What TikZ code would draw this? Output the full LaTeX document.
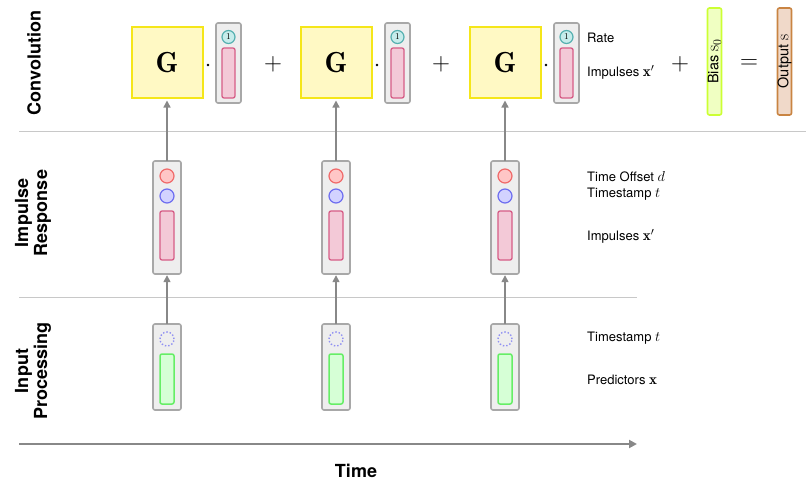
\documentclass[tikz,border=0pt]{standalone}
\usepackage{fontspec}
\setsansfont{TeX Gyre Heros}
\usetikzlibrary{arrows.meta}
\newcommand{\mymth}[1]{{\fontsize{15}{15}\selectfont$#1$}}
\newcommand{\mymthb}[1]{{\fontsize{17}{17}\selectfont$#1$}}
\definecolor{gfill}{HTML}{FFF9C4}
\definecolor{gdraw}{HTML}{F5E619}
\definecolor{vfill}{HTML}{EEEEEE}
\definecolor{vdraw}{HTML}{A8A8A8}
\definecolor{pfill}{HTML}{F3C9D7}
\definecolor{pdraw}{HTML}{D65C86}
\definecolor{tfill}{HTML}{C6ECEB}
\definecolor{tdraw}{HTML}{55B0B0}
\definecolor{rfill}{HTML}{FFC6C6}
\definecolor{rdraw}{HTML}{F06A6A}
\definecolor{bfill}{HTML}{D2D2FF}
\definecolor{bdraw}{HTML}{6E6EF0}
\definecolor{dbdraw}{HTML}{9090F2}
\definecolor{grfill}{HTML}{D6FFD6}
\definecolor{grdraw}{HTML}{66EE66}
\definecolor{bifill}{HTML}{F0FFC2}
\definecolor{bidraw}{HTML}{CCFF33}
\definecolor{ofill}{HTML}{F0D9C9}
\definecolor{odraw}{HTML}{C98442}
\definecolor{arr}{HTML}{888888}
\definecolor{sep}{HTML}{C8C8C8}
\tikzset{
  gbox/.style={draw=gdraw, fill=gfill, line width=2pt, minimum width=71pt, minimum height=71pt, inner sep=0pt, font=\fontsize{29}{29}\selectfont},
  vbox/.style={draw=vdraw, fill=vfill, line width=1.6pt, rounded corners=2pt, inner sep=0pt},
  prect/.style={draw=pdraw, fill=pfill, line width=1.3pt, rounded corners=2pt},
  tcirc/.style={circle, draw=tdraw, fill=tfill, line width=1.2pt, minimum size=13pt, inner sep=0pt, font=\fontsize{9}{9}\selectfont},
  rcirc/.style={circle, draw=rdraw, fill=rfill, line width=1.2pt, minimum size=14pt, inner sep=0pt},
  bcirc/.style={circle, draw=bdraw, fill=bfill, line width=1.2pt, minimum size=14pt, inner sep=0pt},
  dcirc/.style={circle, draw=dbdraw, dotted, line width=1.4pt, minimum size=14pt, inner sep=0pt},
  grect/.style={draw=grdraw, fill=grfill, line width=1.5pt, rounded corners=2pt},
  lbl/.style={anchor=west, font=\sffamily\fontsize{13}{13}\selectfont, inner sep=0pt},
  sect/.style={font=\sffamily\bfseries\fontsize{18}{19}\selectfont, rotate=90, align=center},
  op/.style={font=\fontsize{24}{24}\selectfont, inner sep=0pt},
  dotop/.style={circle, fill=black, minimum size=2.6pt, inner sep=0pt},
  vbar/.style={line width=1.6pt, rounded corners=2pt, minimum width=107pt, minimum height=14pt, inner sep=0pt, rotate=90, font=\sffamily\fontsize{14.5}{14.5}\selectfont},
  conn/.style={draw=arr, line width=1.4pt, -{Triangle[length=7pt,width=7pt]}},
}
\begin{document}
\begin{tikzpicture}[x=1pt,y=-1pt]
\useasboundingbox (0,0) rectangle (806,487);
% separators
\draw[sep, line width=1pt] (19,131) -- (806,131);
\draw[sep, line width=1pt] (19,297) -- (637,297);
% time axis
\coordinate (t0) at (19,444);
\coordinate (t1) at (637,444);
\draw[draw=arr, line width=2pt, -{Triangle[length=8pt,width=8pt]}] (t0) -- (t1);
\node[font=\sffamily\bfseries\fontsize{18}{18}\selectfont] (time) at (356,471) {Time};
% section labels
\node[sect] (sconv) at (34,63) {Convolution};
\node[sect] (simp) at (33,213) {Impulse\\Response};
\node[sect] (sinp) at (33,371) {Input\\Processing};
% columns
\foreach \i/\cx in {1/167,2/336,3/505}{
  % convolution
  \node[gbox] (G\i) at (\cx,62.5) {$\mathbf{G}$};
  \node[dotop] (dot\i) at (\cx+41,65) {};
  \draw[vbox] (\cx+49,23) rectangle (\cx+74,103);
  \node[tcirc] (one\i) at (\cx+61.5,37) {1};
  \draw[prect] (\cx+55,48) rectangle (\cx+68,98);
  % impulse response
  \draw[vbox] (\cx-14,161) rectangle (\cx+14,274);
  \node[inner sep=0pt, minimum width=28pt, minimum height=113pt] (ir\i) at (\cx,217.5) {};
  \node[rcirc] (rc\i) at (\cx,176) {};
  \node[bcirc] (bc\i) at (\cx,196) {};
  \draw[prect] (\cx-7,211) rectangle (\cx+7,260);
  % input processing
  \draw[vbox] (\cx-14,324) rectangle (\cx+14,410);
  \node[inner sep=0pt, minimum width=28pt, minimum height=86pt] (ip\i) at (\cx,367) {};
  \node[dcirc] (dc\i) at (\cx,339) {};
  \draw[grect] (\cx-7,354) rectangle (\cx+7,404);
  % connectors
  \draw[conn] (ip\i.north) -- ([yshift=-1pt]ir\i.south);
  \draw[conn] (ir\i.north) -- ([yshift=-1.5pt]G\i.south);
}
\node[op] (plus1) at (273,64) {$+$};
\node[op] (plus2) at (441,64) {$+$};
\node[op] (plus3) at (680,64) {$+$};
\node[op] (eq) at (749,64) {$=$};
% bias & output
\node[vbar, draw=bidraw, fill=bifill] (bias) at (714.5,61.5) {Bias \mymthb{\mathrm{s}_0}};
\node[vbar, draw=odraw, fill=ofill] (out) at (784.5,61.5) {Output \mymthb{\mathrm{s}}};
% labels
\node[lbl] (lrate) at (587,38) {Rate};
\node[lbl] (limp1) at (587,72) {Impulses \mymth{\mathbf{x}'}};
\node[lbl] (loff) at (587,177) {Time Offset \mymth{d}};
\node[lbl] (lts1) at (587,194) {Timestamp \mymth{t}};
\node[lbl] (limp2) at (587,236) {Impulses \mymth{\mathbf{x}'}};
\node[lbl] (lts2) at (587,338) {Timestamp \mymth{t}};
\node[lbl] (lpred) at (587,380) {Predictors \mymth{\mathbf{x}}};
\end{tikzpicture}
\end{document}
